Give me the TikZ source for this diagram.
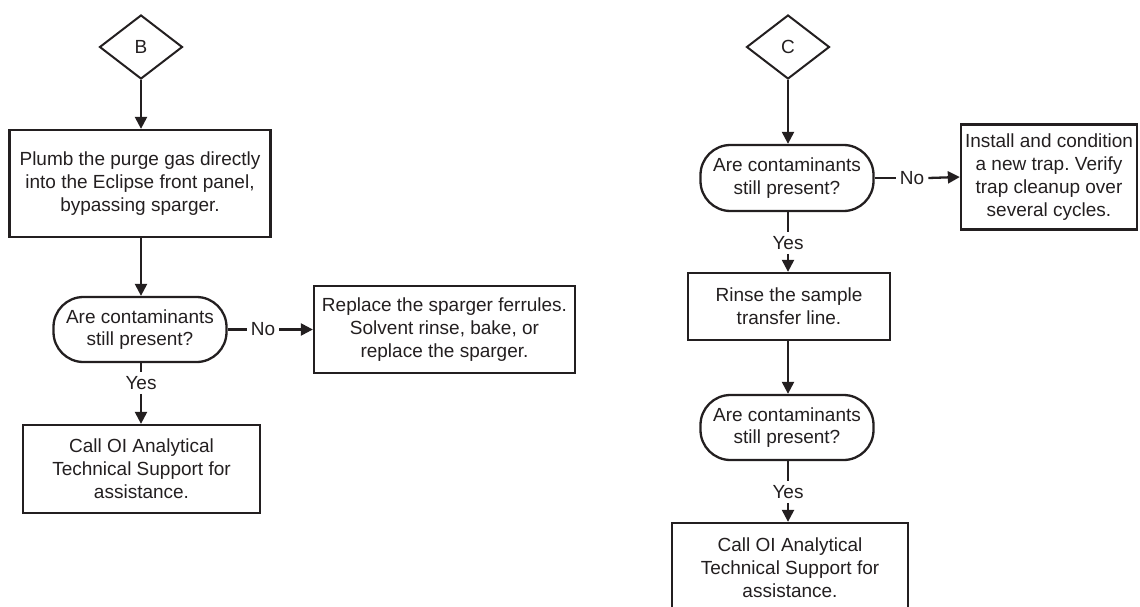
\documentclass[tikz,border=0pt]{standalone}
\usepackage{fontspec}
\setmainfont{Liberation Sans}
\usetikzlibrary{shapes.geometric,arrows.meta}
\definecolor{ink}{RGB}{35,31,32}
\frenchspacing
\begin{document}
\begin{tikzpicture}[x=1pt,y=-1pt,
  every node/.style={font=\fontsize{19}{22.8}\selectfont\frenchspacing, text=ink},
  proc/.style={draw=ink, line width=2.3pt, align=center, inner sep=0pt},
  term/.style={draw=ink, line width=2.3pt, align=center, inner sep=0pt, rounded corners=30pt},
  dia/.style={diamond, draw=ink, line width=2pt, inner sep=0pt, minimum width=83pt, minimum height=64pt},
  conn/.style={draw=ink, line width=2.3pt},
  arr/.style={conn, -{Triangle[length=12pt,width=12pt]}},
  lbl/.style={inner sep=4pt}
]
\useasboundingbox (0,0) rectangle (1140,607);

% Left column
\node[dia] (B) at (141,47) {B};
\node[proc, minimum width=261pt, minimum height=107pt] (p1) at (140,183.5)
  {Plumb the purge gas directly\\into the Eclipse front panel,\\bypassing sparger.};
\node[term, minimum width=173pt, minimum height=65pt] (t1) at (140,329.5)
  {Are contaminants\\still present?};
\node[proc, minimum width=261pt, minimum height=87pt] (r1) at (444.5,329.5)
  {Replace the sparger ferrules.\\Solvent rinse, bake, or\\replace the sparger.};
\node[lbl] (no1) at (263,329.5) {No};
\node[lbl] (yes1) at (141,383) {Yes};
\node[proc, minimum width=237pt, minimum height=88pt] (c1) at (141.5,469)
  {Call OI Analytical\\Technical Support for\\assistance.};

\draw[arr] (B.south) -- (p1.north -| B.south);
\draw[arr] (p1.south -| B.south) -- (t1.north -| B.south);
\draw[conn] (t1.east) -- (no1.west);
\draw[arr] (no1.east) -- (r1.west);
\draw[conn] (t1.south -| yes1.north) -- (yes1.north);
\draw[arr] (yes1.south) -- (c1.north -| yes1.south);

% Right column
\node[dia] (C) at (788,47) {C};
\node[term, minimum width=173pt, minimum height=66pt] (t2) at (787,178)
  {Are contaminants\\still present?};
\node[proc, minimum width=176pt, minimum height=105pt] (i2) at (1049,177)
  {Install and condition\\a new trap. Verify\\trap cleanup over\\several cycles.};
\node[lbl] (no2) at (912,178) {No};
\node[lbl] (yes2) at (788,243) {Yes};
\node[proc, minimum width=202pt, minimum height=67pt] (rs) at (789,306.5)
  {Rinse the sample\\transfer line.};
\node[term, minimum width=173pt, minimum height=65pt] (t3) at (787,427.5)
  {Are contaminants\\still present?};
\node[lbl] (yes3) at (788,492) {Yes};
\node[proc, minimum width=236pt, minimum height=90pt] (c2) at (790,568)
  {Call OI Analytical\\Technical Support for\\assistance.};

\draw[arr] (C.south) -- (t2.north -| C.south);
\draw[conn] (t2.east) -- (no2.west);
\draw[arr] (no2.east) -- (i2.west);
\draw[conn] (t2.south -| yes2.north) -- (yes2.north);
\draw[arr] (yes2.south) -- (rs.north -| yes2.south);
\draw[arr] (rs.south -| yes2.south) -- (t3.north -| yes2.south);
\draw[conn] (t3.south -| yes3.north) -- (yes3.north);
\draw[arr] (yes3.south) -- (c2.north -| yes3.south);
\end{tikzpicture}
\end{document}
